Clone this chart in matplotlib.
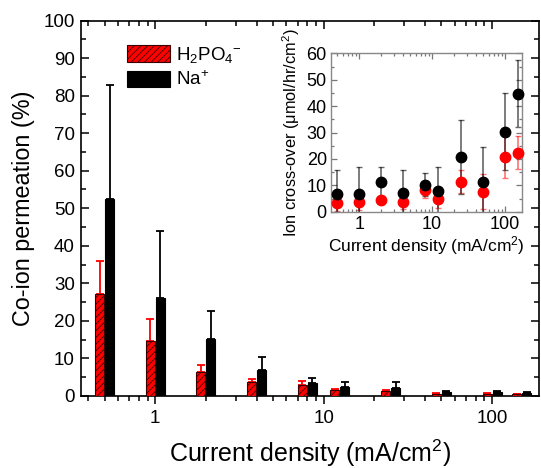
import numpy as np
import matplotlib
matplotlib.use("Agg")
import matplotlib.pyplot as plt
from matplotlib.ticker import LogLocator, NullFormatter, MultipleLocator, FixedLocator, FixedFormatter

plt.rcParams['font.family'] = ['Liberation Sans', 'DejaVu Sans']
plt.rcParams['mathtext.fontset'] = 'custom'
plt.rcParams['mathtext.rm'] = 'Liberation Sans'
plt.rcParams['mathtext.it'] = 'Liberation Sans:italic'
plt.rcParams['mathtext.bf'] = 'Liberation Sans:bold'
plt.rcParams['hatch.linewidth'] = 0.6

# Current densities (mA/cm2)
current = [0.5, 1, 2, 4, 8, 12.5, 25, 50, 100, 150]

# Co-ion permeation (%) with upper error
h2po4_perm = [27.1, 14.6, 6.3, 3.7, 2.8, 1.6, 1.25, 0.6, 0.6, 0.45]
h2po4_perm_err = [8.9, 6.0, 2.0, 0.8, 1.2, 0.3, 0.35, 0.2, 0.2, 0.1]
na_perm = [52.5, 26.2, 15.2, 7.0, 3.4, 2.5, 2.2, 1.07, 1.07, 0.9]
na_perm_err = [30.2, 17.8, 7.4, 3.5, 1.5, 1.1, 1.5, 0.2, 0.15, 0.1]

# Ion cross-over (umol/hr/cm2)
inset_current = [0.5, 1, 2, 4, 8, 12, 25, 50, 100, 150]
na_flux = [6.7, 6.7, 11.2, 7.1, 10.2, 7.8, 20.6, 11.1, 30.3, 44.7]
na_flux_err = [9.1, 10.1, 5.6, 8.6, 4.3, 9.2, 14.0, 13.3, 14.6, 12.7]
h2po4_flux = [3.3, 3.5, 4.5, 3.5, 8.3, 4.8, 11.4, 7.5, 20.8, 22.4]
h2po4_flux_err = [3.0, 3.0, 1.2, 2.5, 3.2, 3.5, 4.5, 6.6, 8.0, 6.3]

W, H = 541, 468
fig = plt.figure(figsize=(W / 100, H / 100), dpi=100)

ax = fig.add_axes([80.5 / W, 1 - 396 / H, (539 - 80.5) / W, (396 - 20.5) / H])
ax.set_xscale('log')
ax.set_xlim(0.36, 190)
ax.set_ylim(0, 100)

x = np.array(current, dtype=float)
half = 0.0535
gap = 0.003
r_left = x * 10 ** (-half - gap)
r_right = x * 10 ** (-gap)
b_left = x * 10 ** gap
b_right = x * 10 ** (half + gap)

ax.bar(r_left, h2po4_perm, width=r_right - r_left, align='edge',
       facecolor='#ff0000', edgecolor='#3a0000', hatch='/////', linewidth=0.8,
       label=r'H$_2$PO$_4$$^{-}$', zorder=3)
ax.bar(b_left, na_perm, width=b_right - b_left, align='edge',
       facecolor='black', edgecolor='black', linewidth=0.8,
       label=r'Na$^{+}$', zorder=3)

r_mid = np.sqrt(r_left * r_right)
b_mid = np.sqrt(b_left * b_right)
ax.errorbar(r_mid, h2po4_perm, yerr=[np.zeros(len(x)), h2po4_perm_err], fmt='none',
            ecolor='#ff0000', elinewidth=1.3, capsize=3, capthick=1.3, zorder=2)
ax.errorbar(b_mid, na_perm, yerr=[np.zeros(len(x)), na_perm_err], fmt='none',
            ecolor='black', elinewidth=1.3, capsize=3, capthick=1.3, zorder=2)

ax.yaxis.set_major_locator(MultipleLocator(10))
ax.yaxis.set_minor_locator(MultipleLocator(5))
ax.xaxis.set_major_locator(FixedLocator([1, 10, 100]))
ax.xaxis.set_major_formatter(FixedFormatter(['1', '10', '100']))
ax.xaxis.set_minor_locator(LogLocator(base=10, subs=np.arange(2, 10), numticks=20))
ax.xaxis.set_minor_formatter(NullFormatter())

ax.tick_params(axis='x', which='both', direction='out', bottom=True, top=True,
               labelsize=13.5, pad=4)
ax.tick_params(axis='y', which='both', direction='in', left=True, right=True,
               labelsize=13.5, pad=4)
ax.tick_params(which='major', length=6, width=1.1)
ax.tick_params(which='minor', length=3.5, width=1.1)
# top ticks point inward, bottom ticks outward
for t in ax.xaxis.get_major_ticks() + ax.xaxis.get_minor_ticks():
    t.tick2line.set_marker(matplotlib.lines.TICKDOWN)
for sp in ax.spines.values():
    sp.set_linewidth(1.2)

ax.set_xlabel(r'Current density (mA/cm$^2$)', fontsize=18, labelpad=8)
ax.set_ylabel('Co-ion permeation (%)', fontsize=16.8, labelpad=6)

leg = ax.legend(loc='upper left', bbox_to_anchor=(127 / W, 1 - 45 / H),
                bbox_transform=fig.transFigure, frameon=False, fontsize=13.5,
                handlelength=2.3, handleheight=1.0, handletextpad=0.3,
                labelspacing=0.3, borderpad=0, borderaxespad=0)

# Inset: ion cross-over
ins = fig.add_axes([331 / W, 1 - 211.7 / H, (522.3 - 331) / W, (211.7 - 53.3) / H])
ins.set_xscale('log')
ins.set_xlim(0.41, 173)
ins.set_ylim(0, 60)
ins.errorbar(inset_current, h2po4_flux, yerr=h2po4_flux_err, fmt='none',
             ecolor=(1, 0, 0, 0.55), elinewidth=1.2, capsize=2, capthick=1.0, zorder=2)
ins.errorbar(inset_current, na_flux, yerr=na_flux_err, fmt='none',
             ecolor=(0, 0, 0, 0.6), elinewidth=1.2, capsize=2, capthick=1.0, zorder=2)
ins.plot(inset_current, h2po4_flux, 'o', color='#ff0000', markersize=7.5, zorder=3, clip_on=False)
ins.plot(inset_current, na_flux, 'o', color='black', markersize=7.5, zorder=4, clip_on=False)

ins.yaxis.set_major_locator(MultipleLocator(10))
ins.yaxis.set_minor_locator(MultipleLocator(5))
ins.xaxis.set_major_locator(FixedLocator([1, 10, 100]))
ins.xaxis.set_major_formatter(FixedFormatter(['1', '10', '100']))
ins.xaxis.set_minor_locator(LogLocator(base=10, subs=np.arange(2, 10), numticks=20))
ins.xaxis.set_minor_formatter(NullFormatter())
ins.tick_params(which='both', direction='in', top=True, right=True, color='#777777',
                labelsize=13, pad=3)
ins.tick_params(which='major', length=4, width=0.9)
ins.tick_params(which='minor', length=2, width=0.9)
for sp in ins.spines.values():
    sp.set_color('#888888')
    sp.set_linewidth(1.0)
ins.set_xlabel(r'Current density (mA/cm$^2$)', fontsize=12.5, labelpad=1)
ins.set_ylabel('Ion cross-over (\u03bcmol/hr/cm$^2$)', fontsize=11.8, labelpad=3)

fig.savefig('out.png', dpi=100)
